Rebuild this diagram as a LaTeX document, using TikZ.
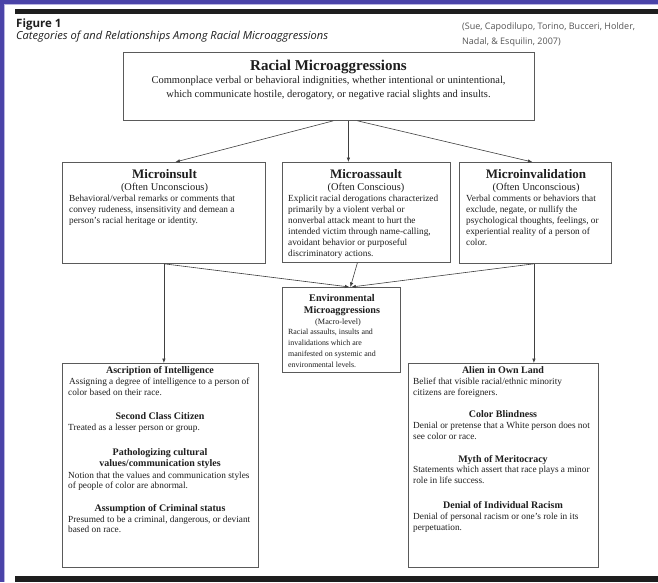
\documentclass[tikz,border=0pt]{standalone}
\usepackage{fontspec}
\setmainfont{Liberation Serif}
\newfontfamily\hdfont{Open Sans}
\usetikzlibrary{arrows.meta}

\definecolor{framecol}{HTML}{4A43A8}
\definecolor{lavcol}{HTML}{B9B4E0}
\definecolor{ink}{HTML}{1E1E1E}
\definecolor{boxline}{HTML}{5A5A5A}
\definecolor{citecol}{HTML}{555555}

\tikzset{
  box/.style={draw=boxline, line width=0.8pt, inner sep=0pt, anchor=north west},
  conn/.style={draw=ink!85, line width=0.6pt, -{Latex[length=4.5pt,width=3.5pt]}},
  txt/.style={inner sep=0pt, text=ink},
  ttl/.style={txt, anchor=base, font=\fontsize{15}{18}\selectfont\bfseries},
  tdesc/.style={txt, anchor=base, font=\fontsize{10.5}{13}\selectfont},
  mttl/.style={txt, anchor=base, font=\fontsize{13}{15}\selectfont\bfseries},
  msub/.style={txt, anchor=base, font=\fontsize{10.4}{12}\selectfont},
  desc/.style={txt, anchor=base west, font=\fontsize{9.3}{11}\selectfont},
  etl/.style={txt, anchor=base, font=\fontsize{10.2}{12}\selectfont\bfseries},
  esub/.style={txt, anchor=base, font=\fontsize{8.2}{10}\selectfont},
  edesc/.style={txt, anchor=base west, font=\fontsize{7.9}{10}\selectfont},
  lhd/.style={txt, anchor=base, font=\fontsize{10}{12}\selectfont\bfseries},
  hdbig/.style={txt, anchor=base west, font=\hdfont\fontsize{11.5}{14}\selectfont\bfseries},
  hdit/.style={txt, anchor=base west, font=\hdfont\fontsize{11.1}{13}\selectfont\itshape},
  cite/.style={inner sep=0pt, text=citecol, anchor=base west, font=\hdfont\fontsize{9}{10}\selectfont},
}

\begin{document}
\begin{tikzpicture}[x=1pt,y=-1pt]
\useasboundingbox (0,0) rectangle (658,582);
\fill[white] (0,0) rectangle (658,582);
% frame
\fill[framecol] (0,0) rectangle (658,4);
\fill[framecol] (0,0) rectangle (4,582);
\fill[lavcol] (4,4) rectangle (658,5.2);
\fill[lavcol] (4,4) rectangle (5.2,582);
\fill[ink] (15,9) rectangle (658,14);
\fill[ink] (15,576) rectangle (658,582);

% header
\node[hdbig] (fig) at (16,27) {Figure 1};
\node[hdit] (cap) at (16,39) {Categories of and Relationships Among Racial Microaggressions};
\node[cite] (cite1) at (462,29) {(Sue, Capodilupo, Torino, Bucceri, Holder,};
\node[cite] (cite2) at (462,44) {Nadal, \& Esquilin, 2007)};

% boxes
\node[box, minimum width=411pt, minimum height=68pt] (top) at (123,52) {};
\node[box, minimum width=203pt, minimum height=101pt] (mi) at (62,162) {};
\node[box, minimum width=168pt, minimum height=100pt] (ma) at (282,162) {};
\node[box, minimum width=152pt, minimum height=101pt] (mv) at (459,162) {};
\node[box, minimum width=118pt, minimum height=85pt] (env) at (282,287) {};
\node[box, minimum width=196pt, minimum height=204pt] (ll) at (62,363) {};
\node[box, minimum width=190pt, minimum height=204pt] (rl) at (408,363) {};

% connectors
\draw[conn] ([xshift=4.5pt]top.south) -- ([xshift=11.5pt]mi.north);
\draw[conn] ([xshift=19.5pt]top.south) -- ([xshift=-18pt]ma.north);
\draw[conn] ([xshift=28.5pt]top.south) -- ([xshift=-3pt]mv.north);
\draw[conn] (mi.south) -- ([xshift=8pt]env.north);
\draw[conn] ([xshift=-9pt]ma.south) -- ([xshift=9pt]env.north);
\draw[conn] ([xshift=-1.5pt]mv.south) -- ([xshift=10pt]env.north);
\draw[conn] (mi.south) -- (mi.south |- ll.north);
\draw[conn] ([xshift=-1.5pt]mv.south) -- ([xshift=-1.5pt]mv.south |- rl.north);

% top box text
\node[ttl] (topT) at (328.5,70) {Racial Microaggressions};
\node[tdesc] (topA) at (328.5,83) {Commonplace verbal or behavioral indignities, whether intentional or unintentional,};
\node[tdesc] (topB) at (328.5,97) {which communicate hostile, derogatory, or negative racial slights and insults.};

% microinsult
\node[mttl] (miT) at (164.5,178) {Microinsult};
\node[msub] (miS) at (164.5,190) {(Often Unconscious)};
\node[desc] (mi1) at (69,201.5) {Behavioral/verbal remarks or comments that};
\node[desc] (mi2) at (69,212.5) {convey rudeness, insensitivity and demean a};
\node[desc] (mi3) at (69,223.5) {person’s racial heritage or identity.};

% microassault
\node[mttl] (maT) at (366,178) {Microassault};
\node[msub] (maS) at (366,190) {(Often Conscious)};
\node[desc] (ma1) at (288,201.5) {Explicit racial derogations characterized};
\node[desc] (ma2) at (288,212.5) {primarily by a violent verbal or};
\node[desc] (ma3) at (288,223.5) {nonverbal attack meant to hurt the};
\node[desc] (ma4) at (288,234.5) {intended victim through name-calling,};
\node[desc] (ma5) at (288,245.5) {avoidant behavior or purposeful};
\node[desc] (ma6) at (288,256.5) {discriminatory actions.};

% microinvalidation
\node[mttl] (mvT) at (536,178) {Microinvalidation};
\node[msub] (mvS) at (536,190) {(Often Unconscious)};
\node[desc] (mv1) at (466,201.5) {Verbal comments or behaviors that};
\node[desc] (mv2) at (466,212.5) {exclude, negate, or nullify the};
\node[desc] (mv3) at (466,223.5) {psychological thoughts, feelings, or};
\node[desc] (mv4) at (466,234.5) {experiential reality of a person of};
\node[desc] (mv5) at (466,245.5) {color.};

% environmental
\node[etl] (envT1) at (342,301) {Environmental};
\node[etl] (envT2) at (342,313) {Microaggressions};
\node[esub] (envS) at (338,324) {(Macro-level)};
\node[edesc] (env1) at (288,334) {Racial assaults, insults and};
\node[edesc] (env2) at (288,345) {invalidations which are};
\node[edesc] (env3) at (288,356) {manifested on systemic and};
\node[edesc] (env4) at (288,367) {environmental levels.};

% lower left
\node[lhd] (llH1) at (160,373.5) {Ascription of Intelligence};
\node[desc] (ll1) at (69,384.5) {Assigning a degree of intelligence to a person of};
\node[desc] (ll2) at (68,395) {color based on their race.};
\node[lhd] (llH2) at (160,419.5) {Second Class Citizen};
\node[desc] (ll3) at (68,430) {Treated as a lesser person or group.};
\node[lhd] (llH3a) at (160,455.5) {Pathologizing cultural};
\node[lhd] (llH3b) at (160,466.5) {values/communication styles};
\node[desc] (ll4) at (68,478) {Notion that the values and communication styles};
\node[desc] (ll5) at (68,488.5) {of people of color are abnormal.};
\node[lhd] (llH4) at (160,511.5) {Assumption of Criminal status};
\node[desc] (ll6) at (68,522.5) {Presumed to be a criminal, dangerous, or deviant};
\node[desc] (ll7) at (68,532.5) {based on race.};

% lower right
\node[lhd] (rlH1) at (503,373) {Alien in Own Land};
\node[desc] (rl1) at (413,384.5) {Belief that visible racial/ethnic minority};
\node[desc] (rl2) at (413,395) {citizens are foreigners.};
\node[lhd] (rlH2) at (503,417.5) {Color Blindness};
\node[desc] (rl3) at (413,428) {Denial or pretense that a White person does not};
\node[desc] (rl4) at (413,439) {see color or race.};
\node[lhd] (rlH3) at (503,462) {Myth of Meritocracy};
\node[desc] (rl5) at (413,472.5) {Statements which assert that race plays a minor};
\node[desc] (rl6) at (413,483) {role in life success.};
\node[lhd] (rlH4) at (503,508) {Denial of Individual Racism};
\node[desc] (rl7) at (413,519) {Denial of personal racism or one’s role in its};
\node[desc] (rl8) at (413,530) {perpetuation.};
\end{tikzpicture}
\end{document}
